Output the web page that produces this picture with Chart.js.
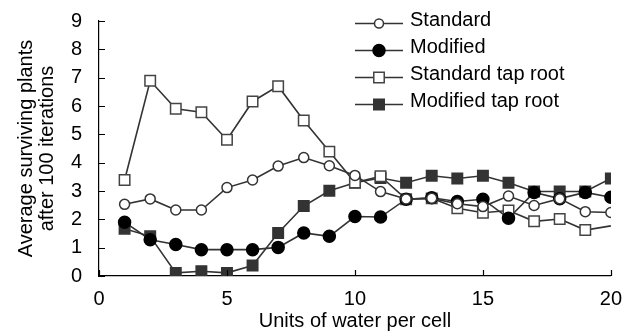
<!DOCTYPE html>
<html lang="en">
<head>
  <meta charset="UTF-8">
  <title>Average surviving plants</title>
  <script src="https://cdn.jsdelivr.net/npm/chart.js"></script>
  <style>
    html, body {
      margin: 0;
      padding: 0;
      background: #fff;
    }

    #wrap {
      width: 625px;
      height: 331px;
    }
  </style>
</head>
<body>
  <div id="wrap">
    <canvas id="grafico" width="625" height="331"></canvas>
  </div>

  <script>
    // units of water per cell
    const water = [1, 2, 3, 4, 5, 6, 7, 8, 9, 10, 11, 12, 13, 14, 15, 16, 17, 18, 19, 20];

    const standard = [2.53, 2.72, 2.33, 2.33, 3.12, 3.39, 3.88, 4.18, 3.89, 3.55,
                      2.98, 2.72, 2.74, 2.55, 2.45, 2.82, 2.49, 2.73, 2.27, 2.24];
    const modified = [1.90, 1.28, 1.11, 0.93, 0.93, 0.93, 1.01, 1.52, 1.40, 2.10,
                      2.08, 2.71, 2.76, 2.63, 2.71, 2.04, 2.95, 2.73, 2.95, 2.78];
    const standardTapRoot = [3.39, 6.89, 5.90, 5.78, 4.81, 6.16, 6.70, 5.49, 4.39, 3.30,
                             3.52, 2.71, 2.74, 2.39, 2.23, 2.31, 1.93, 2.01, 1.62, 1.77];
    const modifiedTapRoot = [1.67, 1.40, 0.11, 0.17, 0.11, 0.37, 1.52, 2.47, 3.01, 3.29,
                             3.46, 3.29, 3.54, 3.44, 3.54, 3.29, 2.98, 2.98, 2.98, 3.44];

    const yTicks = [0, 1, 2, 3, 4, 5, 6, 7, 8, 9];
    const xTicks = [0, 5, 10, 15, 20];

    const FONT = "'Liberation Sans', Arial, Helvetica, sans-serif";
    const LINE = '#333';

    function puntos(valores) {
      return valores.map((v, i) => ({ x: water[i], y: v }));
    }

    // the last open square has no marker, only the line
    const radiosSTR = standardTapRoot.map((v, i) => i === standardTapRoot.length - 1 ? 0 : 7.4);

    const datasets = [
      {
        label: 'Standard',
        data: puntos(standard),
        pointStyle: 'circle',
        pointRadius: 5,
        pointBackgroundColor: '#fff',
        pointBorderColor: '#333',
        legendRadius: 4.5
      },
      {
        label: 'Modified',
        data: puntos(modified),
        pointStyle: 'circle',
        pointRadius: 6,
        pointBackgroundColor: '#000',
        pointBorderColor: '#000',
        legendRadius: 6
      },
      {
        label: 'Standard tap root',
        data: puntos(standardTapRoot),
        pointStyle: 'rect',
        pointRadius: radiosSTR,
        pointBackgroundColor: '#fff',
        pointBorderColor: '#444',
        legendRadius: 7.4
      },
      {
        label: 'Modified tap root',
        data: puntos(modifiedTapRoot),
        pointStyle: 'rect',
        pointRadius: 7.4,
        pointBackgroundColor: '#333',
        pointBorderColor: '#333',
        legendRadius: 7.4
      }
    ].map(d => Object.assign({
      borderColor: LINE,
      borderWidth: 1.6,
      pointBorderWidth: 1.5,
      tension: 0,
      fill: false
    }, d));

    // tick marks drawn inward from the axes
    const ticksInternos = {
      id: 'ticksInternos',
      afterDraw(chart) {
        const { ctx, chartArea, scales } = chart;
        ctx.save();
        ctx.strokeStyle = '#000';
        ctx.lineWidth = 1.2;
        ctx.beginPath();
        yTicks.forEach(v => {
          const y = Math.round(scales.y.getPixelForValue(v)) + 0.5;
          ctx.moveTo(chartArea.left, y);
          ctx.lineTo(chartArea.left + 6, y);
        });
        xTicks.forEach(v => {
          const x = Math.round(scales.x.getPixelForValue(v)) + 0.5;
          ctx.moveTo(x, chartArea.bottom);
          ctx.lineTo(x, chartArea.bottom - 6);
        });
        ctx.stroke();
        ctx.restore();
      }
    };

    // legend: short line with the marker in the middle, label to the right
    const leyenda = {
      id: 'leyenda',
      afterDraw(chart) {
        const ctx = chart.ctx;
        const x0 = 355, x1 = 403, xm = 379, xt = 410;
        ctx.save();
        ctx.font = '20px ' + FONT;
        ctx.textBaseline = 'alphabetic';
        chart.data.datasets.forEach((ds, i) => {
          const base = 26 + i * 27;
          const y = base - 2.5;
          ctx.strokeStyle = ds.borderColor;
          ctx.lineWidth = 1.5;
          ctx.beginPath();
          ctx.moveTo(x0, y);
          ctx.lineTo(x1, y);
          ctx.stroke();
          ctx.fillStyle = ds.pointBackgroundColor;
          ctx.strokeStyle = ds.pointBorderColor;
          ctx.beginPath();
          if (ds.pointStyle === 'rect') {
            const h = ds.legendRadius * Math.SQRT1_2;
            ctx.rect(xm - h, y - h, 2 * h, 2 * h);
          } else {
            ctx.arc(xm, y, ds.legendRadius, 0, Math.PI * 2);
          }
          ctx.fill();
          ctx.stroke();
          ctx.fillStyle = '#000';
          ctx.fillText(ds.label, xt, base);
        });
        ctx.restore();
      }
    };

    const ctx = document.getElementById('grafico').getContext('2d');

    new Chart(ctx, {
      type: 'line',
      data: { datasets: datasets },
      plugins: [ticksInternos, leyenda],
      options: {
        responsive: false,
        animation: false,
        layout: {
          padding: { top: 20, right: 12, left: 0, bottom: 0 }
        },
        plugins: {
          legend: { display: false },
          tooltip: { enabled: false }
        },
        scales: {
          x: {
            type: 'linear',
            min: 0,
            max: 20,
            afterFit(scale) { scale.height = 55; },
            afterBuildTicks(scale) { scale.ticks = xTicks.map(v => ({ value: v })); },
            grid: { display: false },
            border: { display: true, color: '#000', width: 1.2 },
            ticks: {
              color: '#000',
              padding: 3,
              maxRotation: 0,
              font: { family: FONT, size: 20 }
            },
            title: {
              display: true,
              text: 'Units of water per cell',
              color: '#000',
              padding: { top: 0, bottom: 0 },
              font: { family: FONT, size: 20, lineHeight: 1 }
            }
          },
          y: {
            min: 0,
            max: 9,
            afterFit(scale) { scale.width = 99; },
            afterBuildTicks(scale) { scale.ticks = yTicks.map(v => ({ value: v })); },
            grid: { display: false },
            border: { display: true, color: '#000', width: 1.2 },
            ticks: {
              color: '#000',
              padding: 9,
              font: { family: FONT, size: 20 }
            },
            title: {
              display: true,
              text: ['Average surviving plants', 'after 100 iterations'],
              color: '#000',
              padding: { top: 16, bottom: 0 },
              font: { family: FONT, size: 20, lineHeight: 1.05 }
            }
          }
        }
      }
    });
  </script>
</body>
</html>
